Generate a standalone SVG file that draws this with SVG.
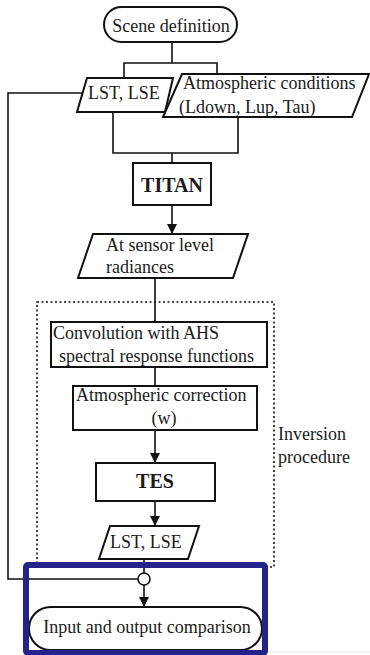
<svg xmlns="http://www.w3.org/2000/svg" width="370" height="655" viewBox="0 0 370 655">
  <style>
    .box { fill: #ffffff; stroke: #111111; stroke-width: 2; }
    .line { fill: none; stroke: #111111; stroke-width: 1.6; }
    .txt { font-family: "Liberation Serif", "Times New Roman", serif; font-size: 18px; fill: #1a1a1a; }
    .bold { font-weight: bold; font-size: 20px; }
    .mid { text-anchor: middle; }
  </style>
  <defs>
    <marker id="arrow" viewBox="0 0 10 10" refX="10" refY="5" markerWidth="10" markerHeight="10" markerUnits="userSpaceOnUse" orient="auto">
      <path d="M0,0 L10,5 L0,10 Z" fill="#111111"/>
    </marker>
  </defs>
  <rect width="370" height="655" fill="#ffffff"/>

  <!-- dotted frame around the inversion procedure -->
  <g id="inversion-frame">
    <rect x="37" y="302" width="237" height="265" fill="none" stroke="#111111" stroke-width="1.6" stroke-dasharray="2,2.5"/>
    <text class="txt" x="278" y="440">Inversion</text>
    <text class="txt" x="278" y="463">procedure</text>
  </g>

  <g id="connectors">
    <path class="line" d="M172,42 V63 M124,78 V63 H217 V74"/>
    <path class="line" d="M113,112 V153 H238 V117 M172,153 V163"/>
    <path class="line" d="M172,205 V234" marker-end="url(#arrow)"/>
    <path class="line" d="M155,278 V322"/>
    <path class="line" d="M155,367 V386"/>
    <path class="line" d="M155,430 V463" marker-end="url(#arrow)"/>
    <path class="line" d="M155,501 V526" marker-end="url(#arrow)"/>
    <path class="line" d="M144,559 V573"/>
    <path class="line" d="M82,93 H8 V579 H138"/>
    <path class="line" d="M144,585 V607" marker-end="url(#arrow)"/>
  </g>

  <g id="scene-definition">
    <rect class="box" x="104" y="7" width="133" height="35" rx="17.5"/>
    <text class="txt mid" x="171" y="32">Scene definition</text>
  </g>

  <g id="lst-lse-input">
    <polygon class="box" points="87,78 173,78 165,112 77,112"/>
    <text class="txt" x="88" y="99">LST, LSE</text>
  </g>

  <g id="atmospheric-conditions">
    <polygon class="box" points="182,74 369,74 352,117 163,117"/>
    <text class="txt" x="183" y="89">Atmospheric conditions</text>
    <text class="txt" x="179" y="113">(Ldown, Lup, Tau)</text>
  </g>

  <g id="titan">
    <rect class="box" x="133" y="163" width="78" height="42"/>
    <text class="txt bold mid" x="172" y="192">TITAN</text>
  </g>

  <g id="sensor-radiances">
    <polygon class="box" points="93,234 248,234 233,278 78,278"/>
    <text class="txt" x="106" y="251">At sensor level</text>
    <text class="txt" x="106" y="273">radiances</text>
  </g>

  <g id="convolution">
    <rect class="box" x="51" y="322" width="216" height="45"/>
    <text class="txt" x="53" y="339">Convolution with AHS</text>
    <text class="txt" x="59" y="362">spectral response functions</text>
  </g>

  <g id="atmospheric-correction">
    <rect class="box" x="73" y="386" width="184" height="44"/>
    <text class="txt" x="76" y="401">Atmospheric correction</text>
    <text class="txt mid" x="164" y="424">(w)</text>
  </g>

  <g id="tes">
    <rect class="box" x="96" y="463" width="119" height="38"/>
    <text class="txt bold mid" x="155" y="488">TES</text>
  </g>

  <g id="lst-lse-output">
    <polygon class="box" points="110,526 199,526 188,559 99,559"/>
    <text class="txt" x="110" y="548">LST, LSE</text>
  </g>

  <g id="junction">
    <circle cx="144" cy="579" r="6" fill="#ffffff" stroke="#111111" stroke-width="1.6"/>
  </g>

  <g id="comparison">
    <rect class="box" x="29" y="607" width="233" height="43" rx="21.5"/>
    <text class="txt mid" x="147" y="633">Input and output comparison</text>
  </g>

  <!-- page edge -->
  <line x1="268" y1="652" x2="370" y2="652" stroke="#e6e6e6" stroke-width="1"/>

  <!-- highlight frame -->
  <g id="highlight">
    <rect x="26" y="565" width="239" height="88" rx="2" fill="none" stroke="#23238a" stroke-width="6"/>
  </g>
</svg>
